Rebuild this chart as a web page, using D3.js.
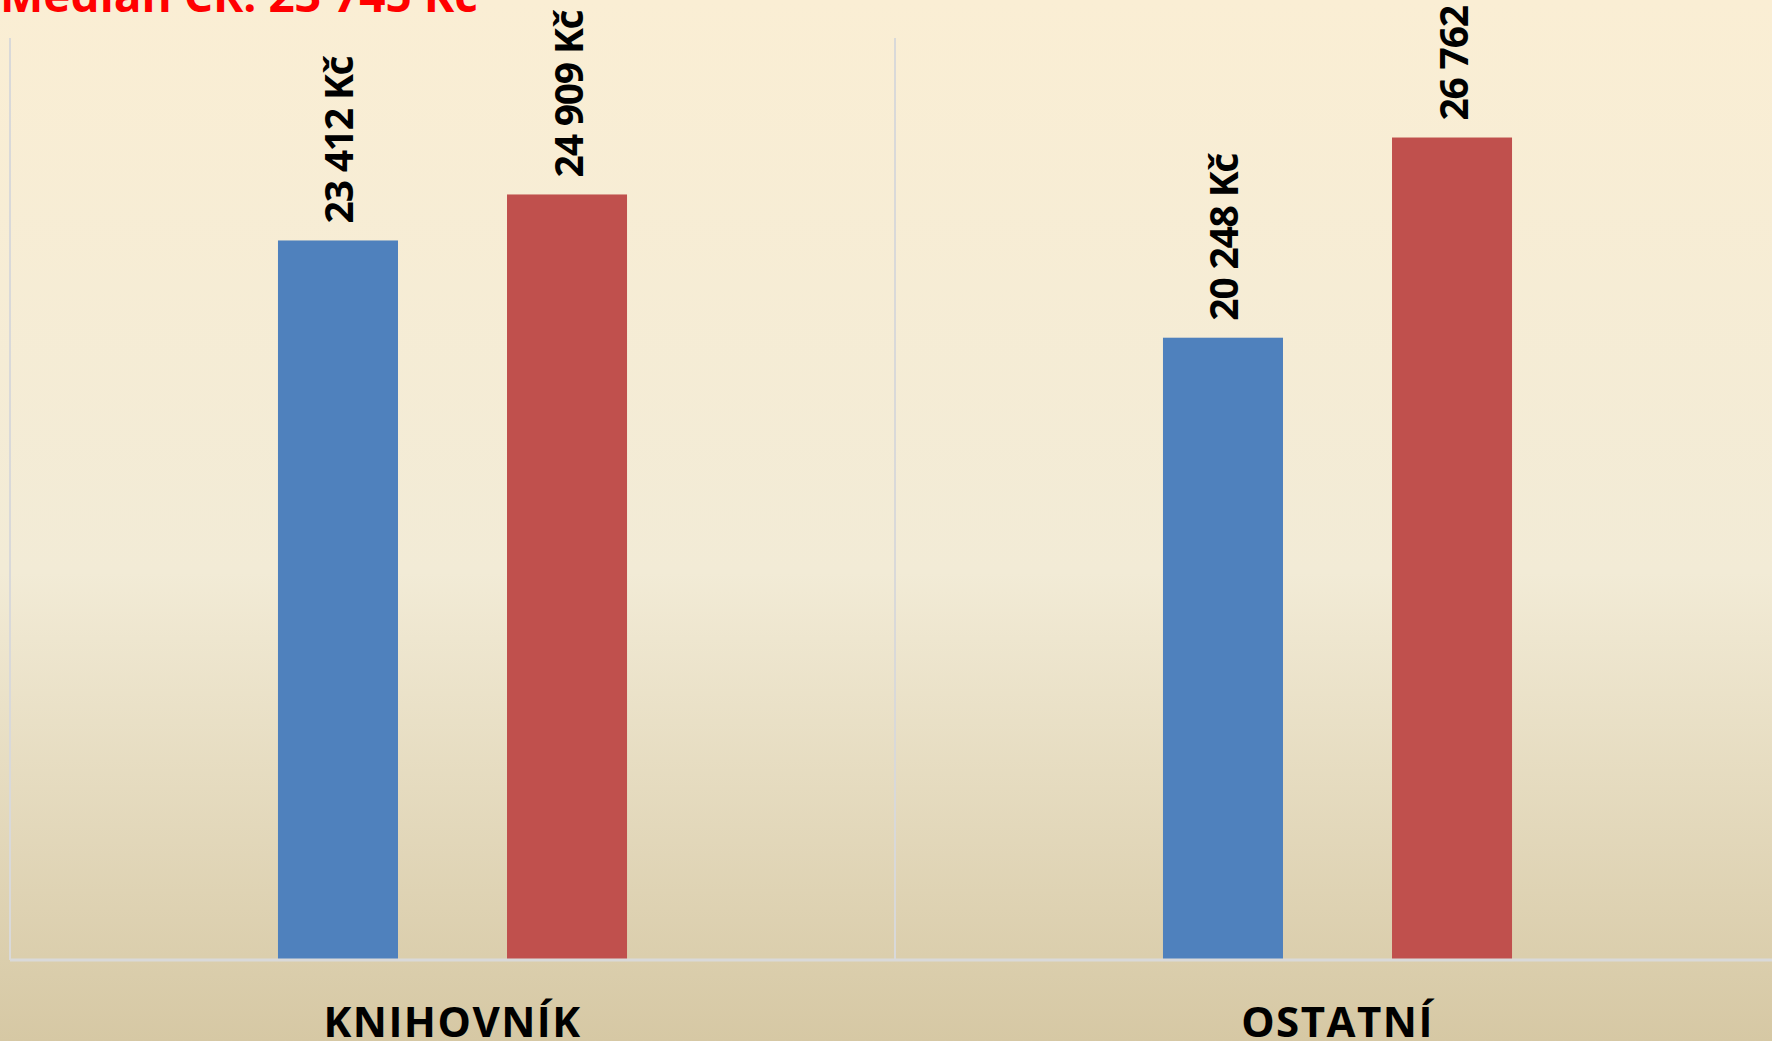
<!DOCTYPE html>
<html lang='cs'>
<head>
  <meta charset='utf-8'>
  <title>Medián mzdy</title>
  <script src='https://cdn.jsdelivr.net/npm/d3@7'></script>
  <style>
    body { margin: 0; overflow: hidden; }
    text { font-family: 'Open Sans', sans-serif; font-weight: bold; }
  </style>
</head>
<body>
  <script>
    // data
    const categories = ["KNIHOVNÍK", "OSTATNÍ"];
    const series = ["Řada 1", "Řada 2"];
    const values = [
      [23412, 24909], // knihovník
      [20248, 26762]  // ostatní
    ];
    const colors = ["#4f81bd", "#c0504d"];
    const titleText = "Medián ČR: 23 745 Kč";

    const width = 1772, height = 1041;
    const plot = { left: 10, right: 1780, top: 38, bottom: 960 };

    const svg = d3.select("body").append("svg")
      .attr("width", width)
      .attr("height", height);

    // background gradient
    const grad = svg.append("defs").append("linearGradient")
      .attr("id", "bg").attr("x1", 0).attr("y1", 0).attr("x2", 0).attr("y2", 1);
    grad.append("stop").attr("offset", "0%").attr("stop-color", "#faeed4");
    grad.append("stop").attr("offset", "55%").attr("stop-color", "#f2ebd6");
    grad.append("stop").attr("offset", "100%").attr("stop-color", "#d6c8a4");
    svg.append("rect").attr("width", width).attr("height", height).attr("fill", "url(#bg)");

    // scales
    let x0 = d3.scaleBand().domain(categories).range([plot.left, plot.right]);
    let x1 = d3.scaleBand().domain(series).range([0, x0.bandwidth()])
      .paddingInner(0.476).paddingOuter(1.17);
    let y = d3.scaleLinear().domain([0, 30000]).range([plot.bottom, plot.top]);

    // category separators
    svg.selectAll(".sep").data(categories.concat(["end"])).join("line")
      .attr("x1", (d, i) => plot.left + i * x0.step())
      .attr("x2", (d, i) => plot.left + i * x0.step())
      .attr("y1", plot.top).attr("y2", plot.bottom)
      .attr("stroke", "#d9d9d9").attr("stroke-width", 2);

    // bars
    let groups = svg.selectAll(".group").data(categories).join("g")
      .attr("transform", d => `translate(${x0(d)},0)`);
    groups.selectAll("rect")
      .data((d, i) => series.map((s, j) => ({ s, j, v: values[i][j] })))
      .join("rect")
      .attr("x", d => x1(d.s))
      .attr("width", x1.bandwidth())
      .attr("y", d => y(d.v))
      .attr("height", d => y(0) - y(d.v))
      .attr("fill", d => colors[d.j]);

    // value labels, rotated
    const fmt = v => d3.format(",")(v).replace(/,/g, " ") + " Kč";
    groups.selectAll(".lab")
      .data((d, i) => series.map((s, j) => ({ s, j, v: values[i][j] })))
      .join("text")
      .attr("transform", d => `translate(${x1(d.s) + x1.bandwidth() / 2},${y(d.v) - 17}) rotate(-90)`)
      .attr("dominant-baseline", "central")
      .attr("font-size", 39)
      .attr("letter-spacing", -1.2)
      .attr("fill", "#000")
      .text(d => fmt(d.v));

    // baseline
    svg.append("line")
      .attr("x1", plot.left).attr("x2", width)
      .attr("y1", plot.bottom).attr("y2", plot.bottom)
      .attr("stroke", "#d9d9d9").attr("stroke-width", 3);

    // category labels
    svg.selectAll(".cat").data(categories).join("text")
      .attr("x", d => x0(d) + x0.bandwidth() / 2)
      .attr("y", 1037)
      .attr("text-anchor", "middle")
      .attr("font-size", 42)
      .attr("letter-spacing", 1.5)
      .attr("fill", "#000")
      .text(d => d);

    // title, cut off at the top
    svg.append("text")
      .attr("x", 0).attr("y", 12)
      .attr("font-size", 46)
      .attr("fill", "#ff0000")
      .text(titleText);
  </script>
</body>
</html>
